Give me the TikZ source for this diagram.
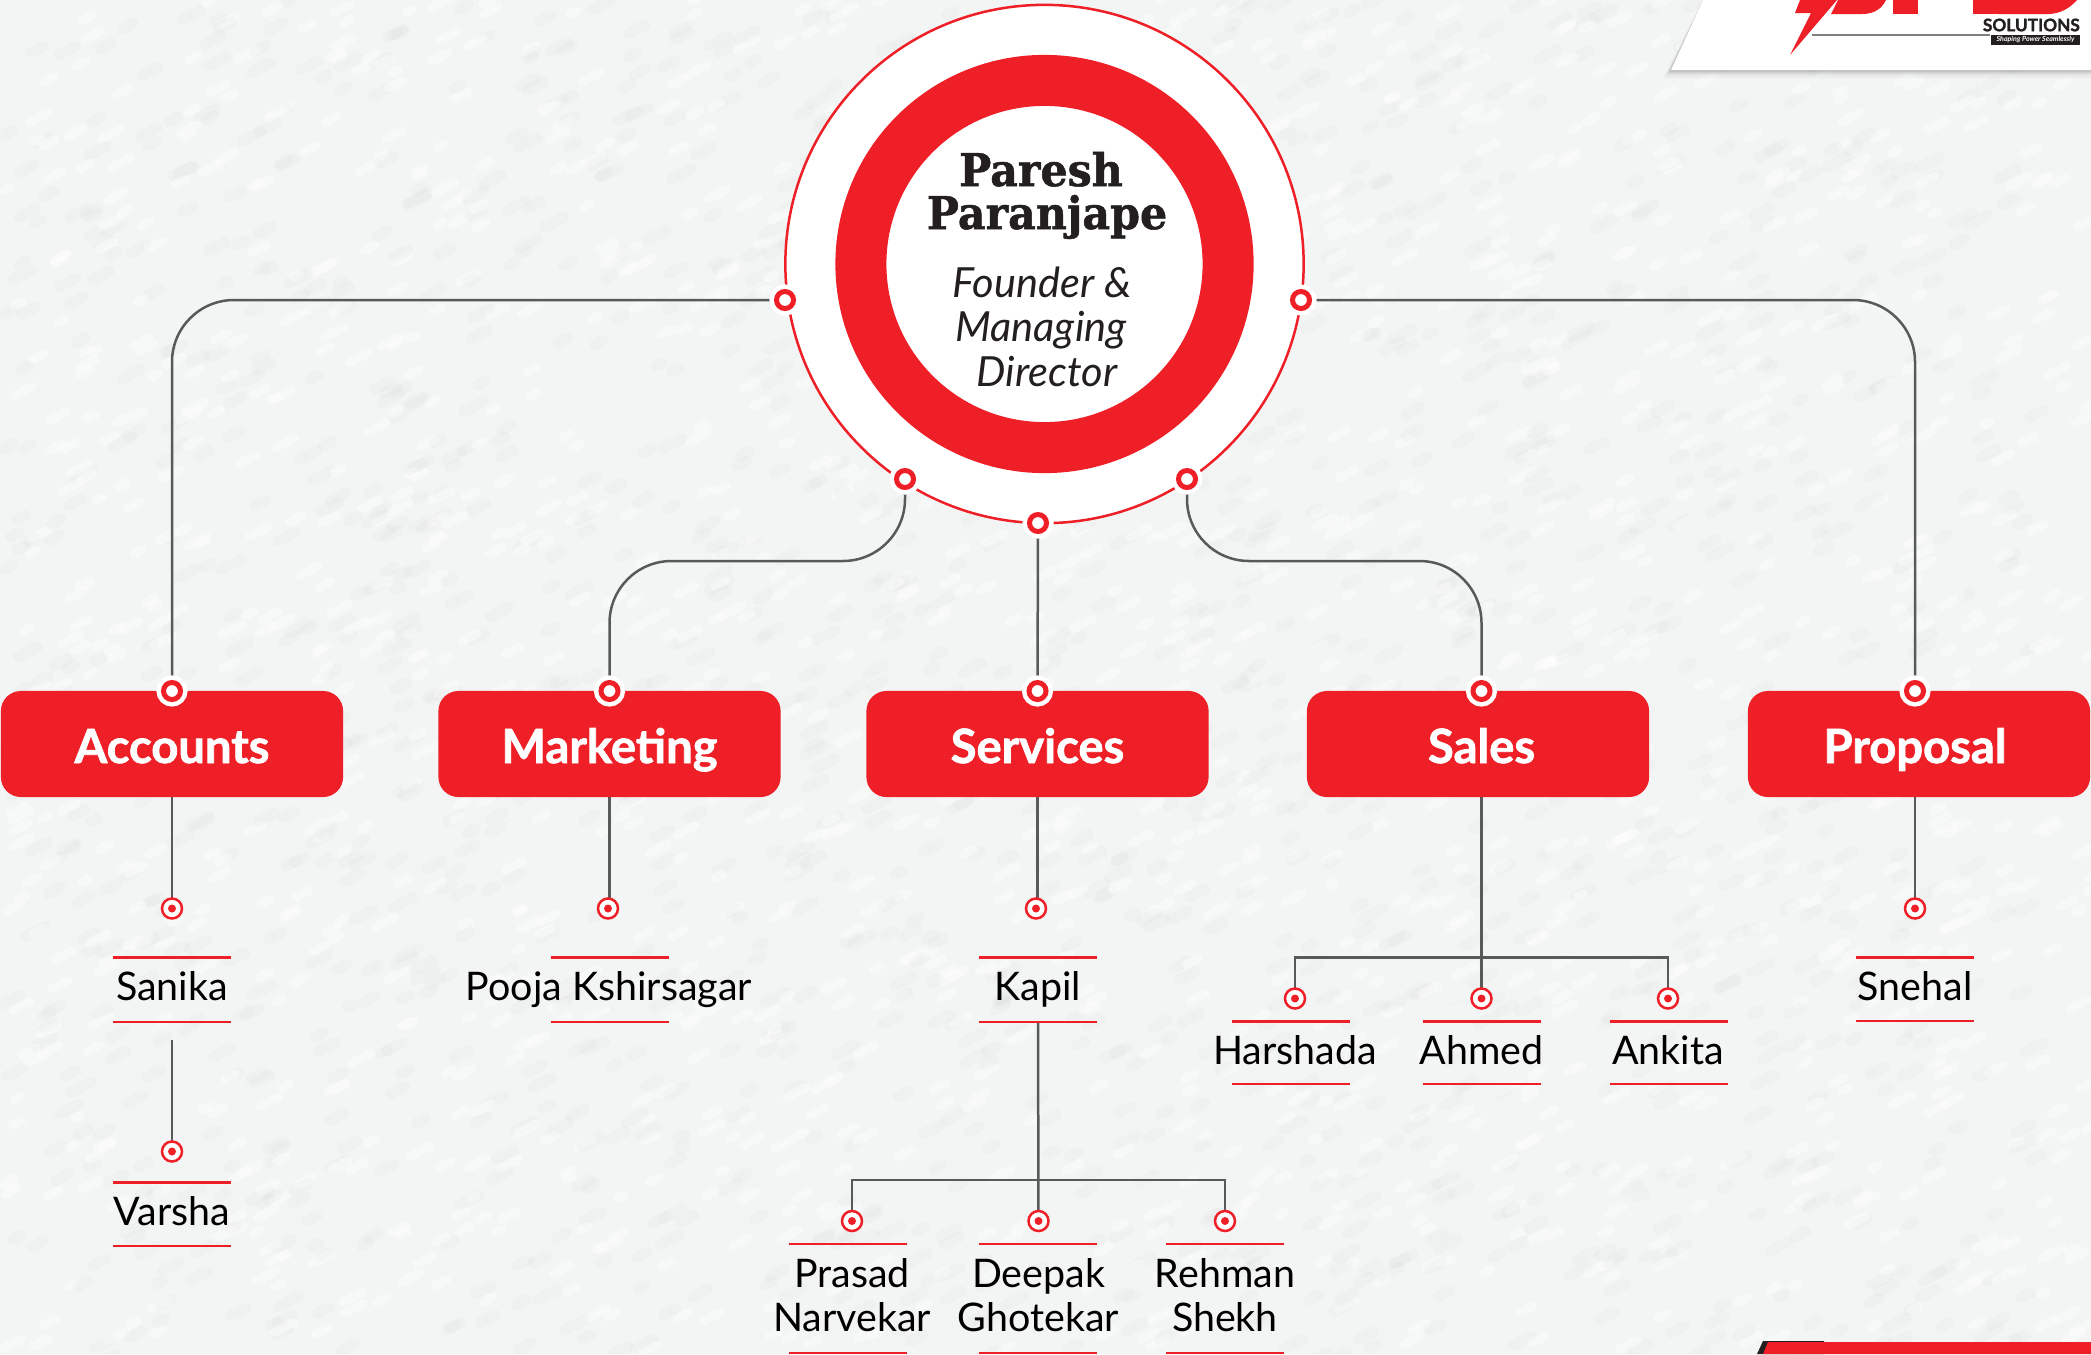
\documentclass[tikz,border=0pt]{standalone}
\usepackage{fontspec}
\setmainfont{Lato}
\newfontfamily\slabfont[FakeStretch=0.95,BoldFeatures={FakeBold=1.2}]{DejaVu Serif}
\newfontfamily\deptfont[BoldFeatures={FakeBold=1.6}]{Lato}
\usetikzlibrary{backgrounds}

\definecolor{chartred}{HTML}{EE1F26}
\definecolor{linegray}{HTML}{58595B}
\definecolor{paper}{HTML}{F3F4F4}
\definecolor{inkblack}{HTML}{231F20}

\tikzset{
  link/.style={draw=linegray,line width=0.025cm},
  namerule/.style={draw=chartred,line width=0.025cm},
  deptbox/.style={rectangle,rounded corners=0.2cm,fill=chartred,minimum width=3.42cm,minimum height=1.06cm,inner sep=0pt},
  depttext/.style={anchor=base,inner sep=0pt,text=white,font=\deptfont\fontsize{13.4}{16}\selectfont\bfseries},
  person/.style={anchor=base,inner sep=0pt,text=black,font=\fontsize{11.2}{13}\selectfont},
  bossname/.style={anchor=base,inner sep=0pt,text=inkblack,font=\slabfont\fontsize{12.8}{13}\selectfont\bfseries},
  bossrole/.style={anchor=base,inner sep=0pt,text=inkblack,font=\fontsize{11.8}{13}\selectfont\itshape},
  bigdot/.style={circle,inner sep=0pt,outer sep=0pt,minimum size=0.17cm,fill=white,draw=chartred,line width=0.05cm,preaction={draw=white,line width=0.14cm}},
  smalldot/.style={circle,inner sep=0pt,outer sep=0pt,minimum size=0.2cm,fill=white,draw=chartred,line width=0.025cm,path picture={\fill[chartred] (path picture bounding box.center) circle (0.04cm);}}
}

\begin{document}
\begin{tikzpicture}[x=0.01cm,y=-0.01cm]
  \useasboundingbox (0,0) rectangle (2091,1354);

  % Centre circle
  \node[circle,minimum size=5.18cm,inner sep=0pt,fill=white,draw=chartred,line width=0.025cm] (outer) at (1044.5,264) {};
  \node[circle,minimum size=3.67cm,inner sep=0pt,fill=white,draw=chartred,line width=0.51cm] (ring) at (1044.5,264) {};
  \node[bossname] (boss) at (1041,186) {Paresh};
  \node[bossname] (bossb) at (1047,229) {Paranjape};
  \node[bossrole] (rolea) at (1042,297) {Founder \&};
  \node[bossrole] (roleb) at (1041,341.5) {Managing};
  \node[bossrole] (rolec) at (1047,386.5) {Director};

  % Dots on the circle
  \node[bigdot] (dotLeft) at (785,300) {};
  \node[bigdot] (dotRight) at (1301,300) {};
  \node[bigdot] (dotLow) at (905,479) {};
  \node[bigdot] (dotHigh) at (1187,479) {};
  \node[bigdot] (dotMid) at (1038,523) {};

  % Departments
  \node[deptbox] (accounts) at (172,744) {};
  \node[deptbox] (marketing) at (609.5,744) {};
  \node[deptbox] (services) at (1037.5,744) {};
  \node[deptbox] (sales) at (1478,744) {};
  \node[deptbox] (proposal) at (1919,744) {};
  \node[depttext] (accountsText) at (172,763) {Accounts};
  \node[depttext] (marketingText) at (609.5,763) {Marketing};
  \node[depttext] (servicesText) at (1037.5,763) {Services};
  \node[depttext] (salesText) at (1481.5,763) {Sales};
  \node[depttext] (proposalText) at (1915,763) {Proposal};

  \node[bigdot] (dotAccounts) at (172,691) {};
  \node[bigdot] (dotMarketing) at (609.5,691) {};
  \node[bigdot] (dotServices) at (1037.5,691) {};
  \node[bigdot] (dotSales) at (1481.5,691) {};
  \node[bigdot] (dotProposal) at (1915,691) {};

  % Small dots
  \node[smalldot] (dotSanika) at (172,908.5) {};
  \node[smalldot] (dotVarsha) at (172,1151.5) {};
  \node[smalldot] (dotPooja) at (608,908.5) {};
  \node[smalldot] (dotKapil) at (1036,908.5) {};
  \node[smalldot] (dotSnehal) at (1915,908.5) {};
  \node[smalldot] (dotHarshada) at (1295,998.5) {};
  \node[smalldot] (dotAhmed) at (1481.5,998.5) {};
  \node[smalldot] (dotAnkita) at (1668,998.5) {};
  \node[smalldot] (dotPrasad) at (852,1221) {};
  \node[smalldot] (dotDeepak) at (1038.5,1221) {};
  \node[smalldot] (dotRehman) at (1225,1221) {};

  % Names
  \node[person] (sanika) at (172,1000.5) {Sanika};
  \node[person] (varsha) at (172,1225.5) {Varsha};
  \node[person] (pooja) at (609,1000.5) {Pooja Kshirsagar};
  \node[person] (kapil) at (1038,1000.5) {Kapil};
  \node[person] (snehal) at (1915,1000.5) {Snehal};
  \node[person] (harshada) at (1295,1064.5) {Harshada};
  \node[person] (ahmed) at (1481.5,1064.5) {Ahmed};
  \node[person] (ankita) at (1668,1064.5) {Ankita};
  \node[person] (prasad) at (852,1287) {Prasad};
  \node[person] (narvekar) at (852,1331.5) {Narvekar};
  \node[person] (deepak) at (1038.5,1287) {Deepak};
  \node[person] (ghotekar) at (1038.5,1331.5) {Ghotekar};
  \node[person] (rehman) at (1225,1287) {Rehman};
  \node[person] (shekh) at (1225,1331.5) {Shekh};

  % Rules over and under the names
  \foreach \x/\y in {172/957.5,172/1022,172/1182.5,172/1246,609.5/957.5,609.5/1022,1037.5/957.5,1037.5/1022,1914.5/957.5,1914.5/1021,1291/1021.5,1481.5/1021.5,1668.5/1021.5,1291/1084,1481.5/1084,1668.5/1084,848/1244,848/1353,1038/1244,1038/1353,1225/1244,1225/1353}
    \draw[namerule] (\x-59,\y) -- (\x+59,\y);

  % Free ends and bends
  \coordinate (varshaStart) at (172,1040);
  \coordinate (kapilEnd) at (1038,1022);
  \coordinate (marketingBend) at (750,561);
  \coordinate (salesBend) at (1330,561);
  \coordinate (salesBar) at (1481.5,957.5);
  \coordinate (servicesBar) at (1038.5,1180);

  % Corner panel and logo
  \foreach \d/\o in {8/0.03,5/0.05,3/0.07,1.5/0.09}
    \fill[black,opacity=\o] (1671-\d,70+\d) -- (1703,0) -- (2091,0) -- (2091,70+\d) -- cycle;
  \fill[white] (1671,70) -- (1703,0) -- (2091,0) -- (2091,70) -- cycle;
  \fill[chartred] (1795,13) -- (1811,13) -- (1790,55) -- (1837,0) -- (1800,0) -- cycle;
  \fill[chartred] (1831,14) -- (1862,14) .. controls (1875,14) and (1882,8) .. (1886,0) -- (1838,0) -- cycle;
  \fill[chartred] (1893,0) rectangle (1918,14);
  \fill[chartred] (1973,0) rectangle (1998,14);
  \fill[chartred] (1998,14) -- (2048,14) .. controls (2060,14) and (2070,8) .. (2077,0) -- (1998,0) -- cycle;
  \draw[gray,line width=0.015cm] (1812,35) -- (1990,35);
  \fill[inkblack] (1991,34.5) rectangle (2080,45);
  \node[anchor=east,inner sep=0pt,text=inkblack,font=\deptfont\fontsize{4.9}{5}\selectfont\bfseries] (logoName) at (2080.5,25) {SOLUTIONS};
  \node[inner sep=0pt,text=white,font=\fontsize{2}{2}\selectfont\bfseries\itshape] (logoLine) at (2035.5,39.7) {Shaping Power Seamlessly};

  % Corner band
  \fill[inkblack] (1757,1354) -- (1763,1341) -- (1824,1341) -- (1824,1354) -- cycle;
  \fill[chartred] (1763,1354) -- (1768,1342) -- (2091,1342) -- (2091,1354) -- cycle;

  \begin{pgfonlayer}{background}
    % Paper
    \fill[paper] (0,0) rectangle (2091,1354);
    \begin{scope}
      \clip (0,0) rectangle (2091,1354);
      \pgfmathsetseed{11}
      \foreach \i in {1,...,1600} {
        \pgfmathsetmacro{\px}{rnd*2091}
        \pgfmathsetmacro{\py}{rnd*1354}
        \pgfmathsetmacro{\pl}{6+rnd*14}
        \draw[white,opacity=0.4,line width=0.09cm,line cap=round] (\px,\py) -- ++(\pl,-0.5*\pl);
        \draw[gray,opacity=0.03,line width=0.11cm,line cap=round] (\py*1.5,\px*0.65) -- ++(\pl,-0.5*\pl);
      }
    \end{scope}

    % Connectors
    \draw[link,rounded corners=0.62cm] (dotLeft.center) -| (dotAccounts.center);
    \draw[link,rounded corners=0.62cm] (dotRight.center) -| (dotProposal.center);
    \draw[link,rounded corners=0.62cm] (dotLow.center) |- (marketingBend) -| (dotMarketing.center);
    \draw[link,rounded corners=0.62cm] (dotHigh.center) |- (salesBend) -| (dotSales.center);
    \draw[link] (dotMid.center) -- (dotServices.center);
    \draw[link] (accounts.center) -- (dotSanika.center);
    \draw[link] (marketing.center) -- (marketing.center |- dotPooja.center);
    \draw[link] (services.center) -- (services.center |- dotKapil.center);
    \draw[link] (dotSales.center) -- (dotAhmed.center);
    \draw[link] (dotProposal.center) -- (dotSnehal.center);
    \draw[link] (varshaStart) -- (dotVarsha.center);
    \draw[link] (dotHarshada.center) |- (salesBar) -| (dotAnkita.center);
    \draw[link] (kapilEnd) -- (dotDeepak.center);
    \draw[link] (dotPrasad.center) |- (servicesBar) -| (dotRehman.center);
  \end{pgfonlayer}
\end{tikzpicture}
\end{document}
